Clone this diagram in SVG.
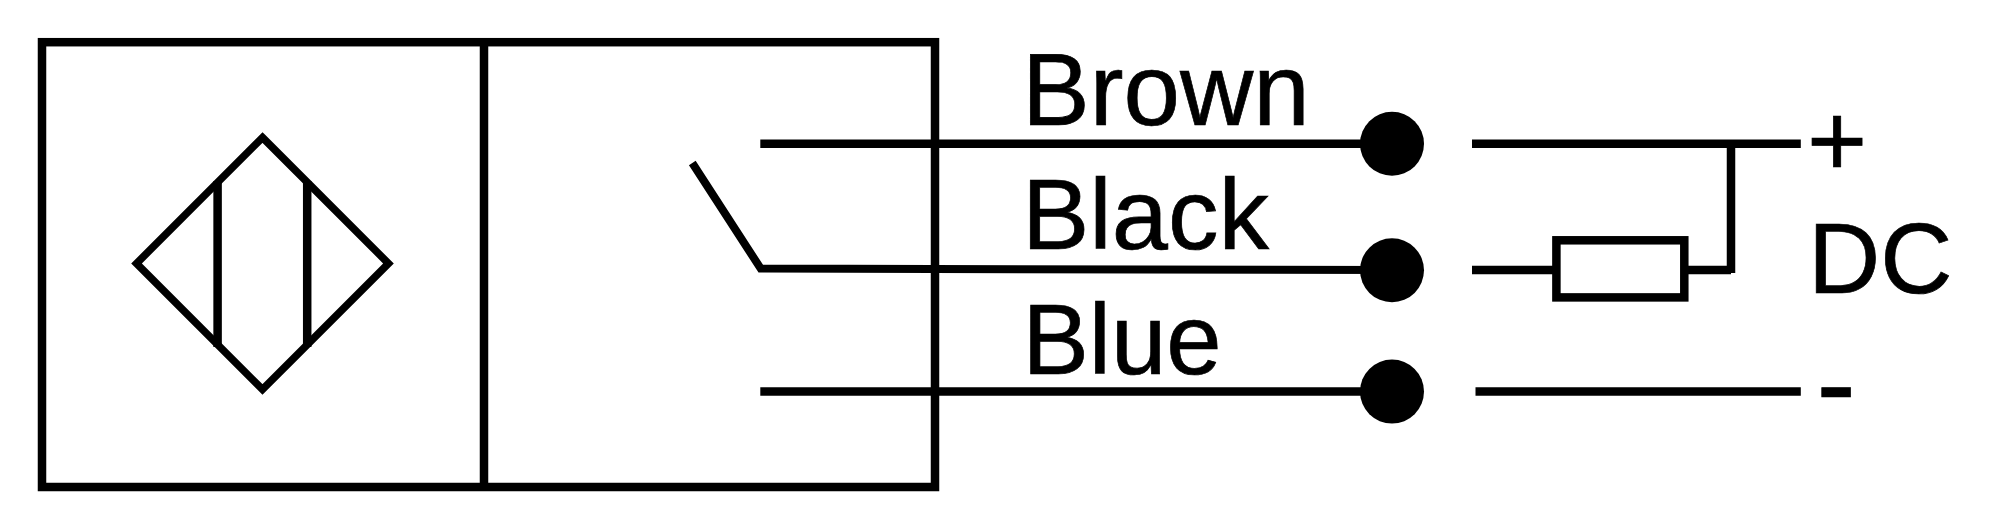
<svg xmlns="http://www.w3.org/2000/svg" width="1998" height="529" viewBox="0 0 1998 529">
<style>
.s{fill:none;stroke:#000;stroke-width:8.5;stroke-miterlimit:10}
.d{fill:#000;stroke:none}
text{font-family:"Liberation Sans",Arial,sans-serif;fill:#000;stroke:#000;stroke-width:.7;font-size:101px}
</style>
<rect width="1998" height="529" fill="#fff"/>
<g id="housing">
<rect class="s" x="42" y="42.2" width="893" height="444.8"/>
<line class="s" x1="484" y1="42" x2="484" y2="487"/>
</g>
<g id="sensor-symbol">
<path class="s" style="stroke-width:7.5" d="M262.5 137.5 L388.5 263.5 L262.5 389.5 L136.5 263.5 Z"/>
<line class="s" x1="217.6" y1="181" x2="217.6" y2="347"/>
<line class="s" x1="307.2" y1="181" x2="307.2" y2="347"/>
</g>
<g id="connectors">
<line class="s" x1="760.3" y1="143.8" x2="1392" y2="143.8"/>
<path class="s" style="stroke-width:8" d="M692.3 163 L760.7 268.6 L1392 270"/>
<line class="s" x1="760.3" y1="391.6" x2="1392" y2="391.6"/>
<line class="s" x1="1472" y1="143.8" x2="1800.8" y2="143.8"/>
<line class="s" x1="1472" y1="270" x2="1553" y2="270"/>
<path class="s" d="M1688 270 H1731 M1731 143.8 V273"/>
<line class="s" x1="1475.5" y1="391.4" x2="1732" y2="391.4"/>
<line class="s" x1="1732" y1="391.6" x2="1800.8" y2="391.6"/>
</g>
<g id="terminal-brown"><circle class="d" cx="1392" cy="143.8" r="32"/></g>
<g id="terminal-black"><circle class="d" cx="1392" cy="270.3" r="32"/></g>
<g id="terminal-blue"><circle class="d" cx="1392" cy="391.6" r="32"/></g>
<g id="load-resistor"><rect class="s" x="1556.4" y="240.3" width="127.9" height="57.1"/></g>
<g id="labels">
<text x="1022" y="125" style="font-size:101.5px">Brown</text>
<text x="1022" y="249">Black</text>
<text x="1022.5" y="374" style="font-size:99.5px">Blue</text>
<text x="1807" y="176.4" style="font-size:103px">+</text>
<text x="1808" y="293" style="font-size:100px">DC</text>
<text x="1816.5" y="424" style="font-size:118px">-</text>
</g>
</svg>
